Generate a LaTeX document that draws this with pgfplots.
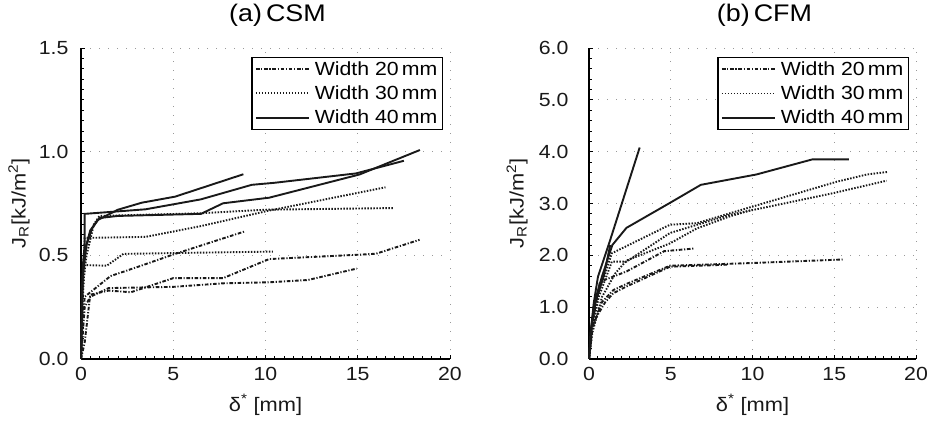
\documentclass[border=0pt]{standalone}
\usepackage{fontspec}
\setmainfont{Liberation Sans}[FakeStretch=1.12]
\usepackage{pgfplots}
\pgfplotsset{compat=1.18}
\tikzset{
  w20/.style={line width=1.9pt, color=black!90, dash pattern=on 3.6pt off 1.7pt on 1.2pt off 1.7pt},
  w30/.style={line width=1.9pt, color=black!90, dash pattern=on 1.5pt off 1.5pt},
  w40/.style={line width=1.9pt, color=black!90},
}
\pgfplotsset{
  common/.style={
    scale only axis,
    height=311pt,
    xmin=0, xmax=20, xtick={0,5,10,15,20},
    minor x tick num=9,
    axis x line*=bottom, axis y line*=left,
    axis line style={line width=1.3pt, -},
    tick align=inside,
    major tick length=4pt, minor tick length=2.5pt,
    tick style={line width=0.8pt, black},
    xmajorgrids, ymajorgrids,
    major grid style={gray!80, line width=0.9pt, dash pattern=on 1pt off 8pt},
    /pgf/number format/assume math mode=true,
    tick label style={font=\fontsize{19}{22}\selectfont, black!90},
    yticklabel style={/pgf/number format/fixed, /pgf/number format/fixed zerofill, /pgf/number format/precision=1},
    xticklabel style={yshift=-5pt, /pgf/number format/fixed, /pgf/number format/precision=0},
    label style={font=\fontsize{19.5}{22}\selectfont, black!90},
    title style={font=\fontsize{24}{28}\selectfont, at={(axis description cs:0.5,1)}, anchor=center, yshift=27pt, xshift=12pt},
    xlabel style={at={(axis description cs:0.5,0)}, anchor=center, yshift=-46pt},
    xlabel={δ\textsuperscript{*} [mm]},
    legend style={at={(axis description cs:1,1)}, anchor=north east, xshift=-7pt, yshift=-9pt,
      draw=black, line width=1.1pt, fill=white,
      font=\fontsize{19}{22}\selectfont, row sep=5pt, inner ysep=2pt, inner xsep=3pt,
      cells={anchor=west}},
    legend image code/.code={\draw[#1] (0pt,0pt) -- (53pt,0pt); \path (56pt,0pt);},
    clip=false,
  }
}
\newcommand{\JR}{J\textsubscript{R}[kJ/m\textsuperscript{2}]}
\begin{document}
\begin{tikzpicture}
\useasboundingbox (0,0) rectangle (934pt,422pt);
% ---------------- (a) CSM ----------------
\begin{axis}[common,
  at={(81pt,63pt)}, anchor=south west,
  width=369pt,
  ymin=0, ymax=1.5, ytick={0,0.5,1.0,1.5}, minor y tick num=9,
  yticklabel style={xshift=-9pt},
  title={(a)\,CSM},
]
\node[rotate=90, anchor=center, font=\fontsize{19.5}{22}\selectfont, text=black!90] at (axis description cs:-0.168,0.5) {\JR};
\addlegendimage{w20}\addlegendentry{Width 20\,mm}
\addlegendimage{w30}\addlegendentry{Width 30\,mm}
\addlegendimage{w40}\addlegendentry{Width 40\,mm}
% Width 20
\addplot[w20, forget plot] coordinates {(0,0) (0.1,0.15) (0.2,0.30) (1.6,0.40) (3.1,0.445) (5.0,0.504) (8.9,0.616)};
\addplot[w20, forget plot] coordinates {(0,0) (0.2,0.08) (0.5,0.31) (1.5,0.33) (2.7,0.322) (5.0,0.39) (7.7,0.39) (10.2,0.482) (15.5,0.505) (16.0,0.508) (18.35,0.575)};
\addplot[w20, forget plot] coordinates {(0,0) (0.2,0.25) (0.5,0.30) (1.5,0.342) (5.0,0.348) (7.7,0.365) (10.2,0.37) (12.3,0.381) (14.94,0.436)};
% Width 30
\addplot[w30, forget plot] coordinates {(0,0) (0.1,0.35) (0.3,0.5) (0.7,0.65) (1.0,0.69) (6.5,0.703) (10,0.72) (16.9,0.728)};
\addplot[w30, forget plot] coordinates {(0,0) (0.1,0.4) (0.2,0.584) (3.5,0.589) (6.5,0.641) (10.1,0.714) (16.5,0.828)};
\addplot[w30, forget plot] coordinates {(0,0) (0.1,0.3) (0.2,0.453) (1.4,0.45) (2.3,0.507) (6.5,0.513) (10.4,0.518)};
% Width 40
\addplot[w40, forget plot] coordinates {(0,0) (0.05,0.35) (0.2,0.52) (0.5,0.62) (0.9,0.67) (2.0,0.72) (3.3,0.754) (5.1,0.783) (8.8,0.891)};
\addplot[w40, forget plot] coordinates {(0,0) (0.1,0.45) (0.2,0.55) (0.2,0.70) (3.5,0.722) (6.5,0.77) (9.25,0.84) (10.5,0.85) (14.9,0.895) (17.5,0.956)};
\addplot[w40, forget plot] coordinates {(0,0) (0.1,0.4) (0.3,0.55) (0.6,0.63) (1.0,0.68) (2,0.69) (6.5,0.70) (7.7,0.751) (10.2,0.778) (15.1,0.89) (18.37,1.008)};
\end{axis}
% ---------------- (b) CFM ----------------
\begin{axis}[common,
  at={(589pt,63pt)}, anchor=south west,
  width=327pt,
  ymin=0, ymax=6, ytick={0,1,2,3,4,5,6}, minor y tick num=4,
  yticklabel style={xshift=-17pt},
  title={(b)\,CFM},
]
\node[rotate=90, anchor=center, font=\fontsize{19.5}{22}\selectfont, text=black!90] at (axis description cs:-0.22,0.5) {\JR};
\addlegendimage{w20}\addlegendentry{Width 20\,mm}
\addlegendimage{w30}\addlegendentry{Width 30\,mm}
\addlegendimage{w40}\addlegendentry{Width 40\,mm}
% Width 20
\addplot[w20, forget plot] coordinates {(0,0) (0.15,0.6) (0.67,1.49) (2.3,1.69) (4.6,2.08) (6.38,2.13)};
\addplot[w20, forget plot] coordinates {(0,0) (0.2,0.6) (0.8,1.1) (1.49,1.33) (2.3,1.45) (4.95,1.8) (9.85,1.85) (15.55,1.92)};
\addplot[w20, forget plot] coordinates {(0,0) (0.25,0.7) (1.0,1.1) (1.49,1.27) (2.3,1.4) (4.95,1.78) (8.5,1.82)};
% Width 30
\addplot[w30, forget plot] coordinates {(0,0) (0.2,0.7) (0.6,1.3) (1.4,2.04) (4.95,2.59) (6.6,2.62) (8.6,2.81) (15.15,3.42) (17,3.56) (18.3,3.61)};
\addplot[w30, forget plot] coordinates {(0,0) (0.2,0.6) (0.6,1.2) (1.4,1.88) (2.3,1.88) (4.95,2.43) (8.6,2.78) (14.94,3.2) (18.2,3.44)};
\addplot[w30, forget plot] coordinates {(0,0) (0.2,0.5) (0.8,1.2) (1.6,1.65) (2.3,1.9) (4.95,2.23) (6.6,2.52) (8.6,2.75) (10,2.88)};
% Width 40
\addplot[w40, forget plot] coordinates {(0,0) (0.1,0.5) (0.3,1.1) (0.55,1.59) (1.3,2.3) (3.1,4.08)};
\addplot[w40, forget plot] coordinates {(0,0) (0.1,0.5) (0.3,1.05) (0.8,1.6) (1.43,2.2) (2.29,2.53) (4.94,3.01) (6.84,3.36) (10.24,3.56) (13.65,3.85) (15.9,3.85)};
\addplot[w40, forget plot] coordinates {(0,0) (0.15,0.6) (0.4,1.1) (0.9,1.6) (1.3,2.2)};
\end{axis}
\end{tikzpicture}
\end{document}
